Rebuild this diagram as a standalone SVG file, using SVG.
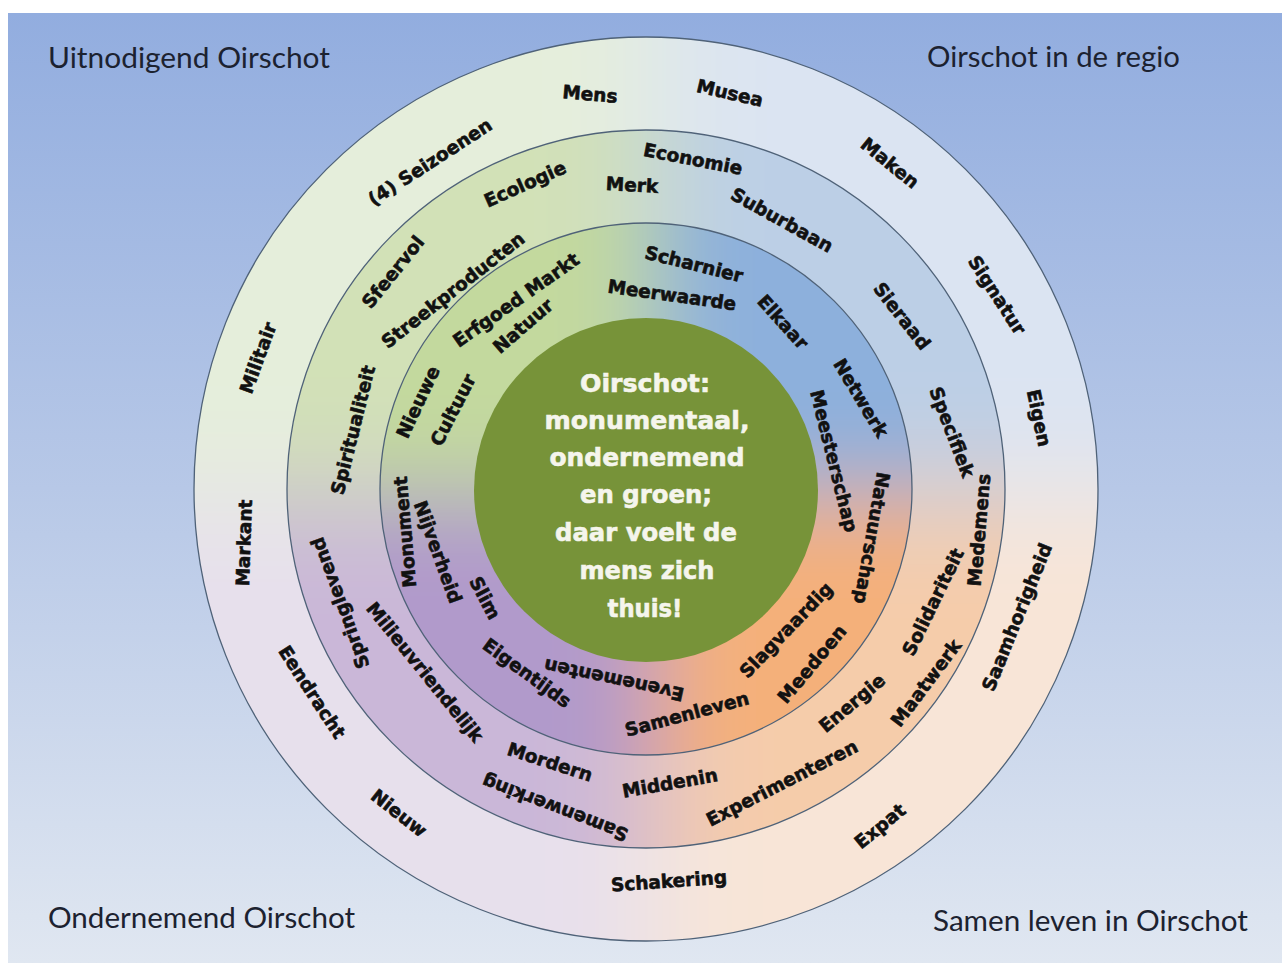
<svg xmlns="http://www.w3.org/2000/svg" width="1282" height="963" viewBox="0 0 1282 963">
<defs>
<style>
.corner{font-family:"Lato","Open Sans",sans-serif;font-size:29px;fill:#1c2230}
.w{font-family:"DejaVu Sans","Liberation Sans",sans-serif;font-weight:bold;font-size:18.5px;fill:#111;stroke:#111;stroke-width:0.6;text-anchor:middle}
.c{font-family:"DejaVu Sans","Liberation Sans",sans-serif;font-weight:bold;font-size:25px;fill:#f5f5ec;stroke:#f5f5ec;stroke-width:0.6;text-anchor:middle}
.ring{fill:none;stroke:#4f6278;stroke-width:1.3}
</style>
<linearGradient id="bg" x1="0" y1="0" x2="0" y2="1">
<stop offset="0" stop-color="#92addf"/>
<stop offset="0.5" stop-color="#b7c8e7"/>
<stop offset="1" stop-color="#e0e7f1"/>
</linearGradient>
<filter id="soft" filterUnits="userSpaceOnUse" x="-300" y="-300" width="1900" height="1600">
<feGaussianBlur stdDeviation="55"/>
</filter>
<filter id="soft2" filterUnits="userSpaceOnUse" x="-300" y="-300" width="1900" height="1600">
<feGaussianBlur stdDeviation="45"/>
</filter>
<clipPath id="cOuter"><circle cx="646" cy="489" r="452"/></clipPath>
<clipPath id="cMid"><circle cx="646" cy="489" r="359"/></clipPath>
<clipPath id="cIn"><circle cx="646" cy="489" r="266"/></clipPath>
</defs>

<rect x="0" y="0" width="1282" height="963" fill="#ffffff"/>
<rect x="8" y="13" width="1274" height="950" fill="url(#bg)"/>

<g id="corner-labels">
<text class="corner" x="48" y="68" textLength="282" lengthAdjust="spacingAndGlyphs">Uitnodigend Oirschot</text>
<text class="corner" x="927" y="67" textLength="253" lengthAdjust="spacingAndGlyphs">Oirschot in de regio</text>
<text class="corner" x="48" y="928" textLength="307" lengthAdjust="spacingAndGlyphs">Ondernemend Oirschot</text>
<text class="corner" x="933" y="931" textLength="315" lengthAdjust="spacingAndGlyphs">Samen leven in Oirschot</text>
</g>

<g id="ring-outer">
<g clip-path="url(#cOuter)">
<g filter="url(#soft)">
<rect x="-100" y="-300" width="755" height="795" fill="#e5eedb"/>
<rect x="655" y="-300" width="800" height="795" fill="#dbe4f2"/>
<rect x="-100" y="495" width="755" height="800" fill="#e7e0ec"/>
<rect x="655" y="495" width="800" height="800" fill="#f8e5d7"/>
</g>
</g>
<circle class="ring" cx="646" cy="489" r="452"/>
</g>

<g id="ring-middle">
<g clip-path="url(#cMid)">
<g filter="url(#soft)">
<rect x="-100" y="-300" width="755" height="795" fill="#d2e1b7"/>
<rect x="655" y="-300" width="800" height="795" fill="#bccfe6"/>
<rect x="-100" y="495" width="755" height="800" fill="#cab7d8"/>
<rect x="655" y="495" width="800" height="800" fill="#f5ccaa"/>
</g>
</g>
<circle class="ring" cx="646" cy="489" r="359"/>
</g>

<g id="ring-inner">
<g clip-path="url(#cIn)">
<g filter="url(#soft2)">
<rect x="-100" y="-300" width="755" height="795" fill="#c3d99e"/>
<rect x="655" y="-300" width="800" height="795" fill="#8db0dc"/>
<rect x="-100" y="495" width="755" height="800" fill="#b19acb"/>
<rect x="655" y="495" width="800" height="800" fill="#f4b07a"/>
</g>
</g>
<circle class="ring" cx="646" cy="489" r="266"/>
</g>

<g id="center">
<circle cx="646" cy="490" r="172" fill="#779339"/>
<text class="c" x="645" y="392" textLength="130" lengthAdjust="spacingAndGlyphs">Oirschot:</text>
<text class="c" x="647" y="429" textLength="205" lengthAdjust="spacingAndGlyphs">monumentaal,</text>
<text class="c" x="647" y="466" textLength="195" lengthAdjust="spacingAndGlyphs">ondernemend</text>
<text class="c" x="646" y="503" textLength="132" lengthAdjust="spacingAndGlyphs">en groen;</text>
<text class="c" x="646" y="541" textLength="182" lengthAdjust="spacingAndGlyphs">daar voelt de</text>
<text class="c" x="647" y="579" textLength="135" lengthAdjust="spacingAndGlyphs">mens zich</text>
<text class="c" x="645" y="617" textLength="75" lengthAdjust="spacingAndGlyphs">thuis!</text>
</g>

<g id="words-outer">
<text class="w" dy=".35em" transform="translate(430,162) rotate(-33)">(4) Seizoenen</text>
<text class="w" dy=".35em" transform="translate(590,94) rotate(5)">Mens</text>
<text class="w" dy=".35em" transform="translate(730,93) rotate(13)">Musea</text>
<text class="w" dy=".35em" transform="translate(890,163) rotate(39)">Maken</text>
<text class="w" dy=".35em" transform="translate(997,295) rotate(57)">Signatur</text>
<text class="w" dy=".35em" transform="translate(1039,418) rotate(78)">Eigen</text>
<text class="w" dy=".35em" transform="translate(1017,617) rotate(-68)">Saamhorigheid</text>
<text class="w" dy=".35em" transform="translate(880,826) rotate(-39)">Expat</text>
<text class="w" dy=".35em" transform="translate(669,881) rotate(-4)">Schakering</text>
<text class="w" dy=".35em" transform="translate(399,813) rotate(38)">Nieuw</text>
<text class="w" dy=".35em" transform="translate(312,692) rotate(57)">Eendracht</text>
<text class="w" dy=".35em" transform="translate(244,543) rotate(-88)">Markant</text>
<text class="w" dy=".35em" transform="translate(258,358) rotate(-70)">Militair</text>
</g>

<g id="words-middle">
<text class="w" dy=".35em" transform="translate(525,184) rotate(-24)">Ecologie</text>
<text class="w" dy=".35em" transform="translate(693,159) rotate(11)">Economie</text>
<text class="w" dy=".35em" transform="translate(632,185) rotate(3)">Merk</text>
<text class="w" dy=".35em" transform="translate(782,220) rotate(29)">Suburbaan</text>
<text class="w" dy=".35em" transform="translate(902,316) rotate(52)">Sieraad</text>
<text class="w" dy=".35em" transform="translate(952,432) rotate(69)">Specifiek</text>
<text class="w" dy=".35em" transform="translate(979,530) rotate(-85)">Medemens</text>
<text class="w" dy=".35em" transform="translate(933,602) rotate(-64)">Solidariteit</text>
<text class="w" dy=".35em" transform="translate(926,683) rotate(-53)">Maatwerk</text>
<text class="w" dy=".35em" transform="translate(852,703) rotate(-40)">Energie</text>
<text class="w" dy=".35em" transform="translate(782,783) rotate(-27)">Experimenteren</text>
<text class="w" dy=".35em" transform="translate(670,783) rotate(-10)">Middenin</text>
<text class="w" dy=".35em" transform="translate(550,762) rotate(18)">Mordern</text>
<text class="w" dy=".35em" transform="translate(555,808) rotate(-159)">Samenwerking</text>
<text class="w" dy=".35em" transform="translate(425,672) rotate(51)">Milieuvriendelijk</text>
<text class="w" dy=".35em" transform="translate(340,603) rotate(-110)">Springlevend</text>
<text class="w" dy=".35em" transform="translate(353,430) rotate(-76)">Spiritualiteit</text>
<text class="w" dy=".35em" transform="translate(453,290) rotate(-38)">Streekproducten</text>
<text class="w" dy=".35em" transform="translate(393,272) rotate(-51)">Sfeervol</text>
</g>

<g id="words-inner">
<text class="w" dy=".35em" transform="translate(516,300) rotate(-35)">Erfgoed Markt</text>
<text class="w" dy=".35em" transform="translate(523,326) rotate(-41)">Natuur</text>
<text class="w" dy=".35em" transform="translate(694,264) rotate(14)">Scharnier</text>
<text class="w" dy=".35em" transform="translate(672,295) rotate(8)">Meerwaarde</text>
<text class="w" dy=".35em" transform="translate(783,322) rotate(48)">Elkaar</text>
<text class="w" dy=".35em" transform="translate(861,398) rotate(59)">Netwerk</text>
<text class="w" dy=".35em" transform="translate(834,461) rotate(76)">Meesterschap</text>
<text class="w" dy=".35em" transform="translate(872,538) rotate(100)">Natuurschap</text>
<text class="w" dy=".35em" transform="translate(786,630) rotate(-46)">Slagvaardig</text>
<text class="w" dy=".35em" transform="translate(812,664) rotate(-50)">Meedoen</text>
<text class="w" dy=".35em" transform="translate(687,714) rotate(-15)">Samenleven</text>
<text class="w" dy=".35em" transform="translate(614,680) rotate(-168)">Evenementen</text>
<text class="w" dy=".35em" transform="translate(527,673) rotate(36)">Eigentijds</text>
<text class="w" dy=".35em" transform="translate(485,598) rotate(62)">Slim</text>
<text class="w" dy=".35em" transform="translate(438,552) rotate(70)">Nijverheid</text>
<text class="w" dy=".35em" transform="translate(405,532) rotate(-95)">Monument</text>
<text class="w" dy=".35em" transform="translate(418,402) rotate(-65)">Nieuwe</text>
<text class="w" dy=".35em" transform="translate(453,410) rotate(-63)">Cultuur</text>
</g>
</svg>
